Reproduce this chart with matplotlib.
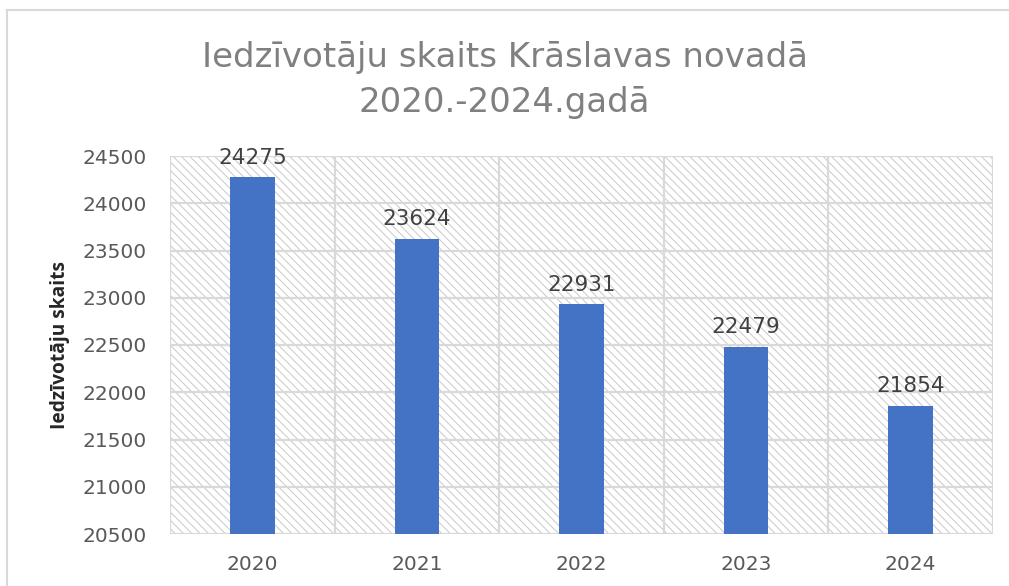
import matplotlib
matplotlib.use("Agg")
import matplotlib.pyplot as plt
from matplotlib.patches import Rectangle
from matplotlib.lines import Line2D

years = ["2020", "2021", "2022", "2023", "2024"]
population = [24275, 23624, 22931, 22479, 21854]
title = "Iedzīvotāju skaits Krāslavas novadā\n2020.-2024.gadā"
ylabel = "Iedzīvotāju skaits"
ymin, ymax, ystep = 20500, 24500, 500

plt.rcParams['font.family'] = ['DejaVu Sans']
plt.rcParams['hatch.linewidth'] = 0.7
plt.rcParams['hatch.color'] = '#c8c8c8'

W, H = 1009, 586
fig = plt.figure(figsize=(W / 100, H / 100), dpi=100)
fig.patch.set_facecolor('white')

# outer chart border (partially visible)
fig.add_artist(Line2D([7 / W, 7 / W], [0, 1 - 10 / H], transform=fig.transFigure,
                      color='#d9d9d9', lw=1.5))
fig.add_artist(Line2D([7 / W, 1], [1 - 10 / H, 1 - 10 / H], transform=fig.transFigure,
                      color='#d9d9d9', lw=1.5))

ax = fig.add_axes([170 / W, 1 - 534 / H, (993 - 170) / W, (534 - 156) / H])
ax.set_facecolor('white')
ax.add_patch(Rectangle((0, 0), 1, 1, transform=ax.transAxes, facecolor='white',
                       edgecolor='#c8c8c8', hatch='\\\\\\\\', lw=0, zorder=0))

x = list(range(len(years)))
ax.bar(x, population, width=0.27, color='#4472c4', zorder=3)
ax.set_ylim(ymin, ymax)
ax.set_xlim(-0.5, len(years) - 0.5)
ax.set_yticks(list(range(ymin, ymax + 1, ystep)))
ax.set_xticks(x)
ax.set_xticklabels(years)

for v in range(ymin, ymax + 1, ystep):
    ax.axhline(v, color='#d9d9d9', lw=1.6, zorder=1)
for b in [i + 0.5 for i in range(-1, len(years))]:
    ax.axvline(b, color='#d9d9d9', lw=1.6, zorder=1)

for s in ax.spines.values():
    s.set_visible(False)
ax.tick_params(length=0, labelsize=14.5, colors='#595959')
ax.tick_params(axis='x', pad=15)
ax.tick_params(axis='y', pad=16.5)

for xi, v in zip(x, population):
    ax.annotate(f"{v}", (xi, v), xytext=(0, 7), textcoords='offset points',
                ha='center', va='bottom', fontsize=15.5, color='#404040', zorder=4)

ax.set_ylabel(ylabel, fontsize=13.8, fontweight='bold', color='#262626',
              family=['Open Sans', 'DejaVu Sans'])
ax.yaxis.set_label_coords((70 - 170) / 823, 0.5)

fig.text(0.5, 1 - 80 / H, title, ha='center', va='center', fontsize=24.5,
         color='#808080', linespacing=1.45)

fig.savefig("out.png", dpi=100, facecolor='white')
